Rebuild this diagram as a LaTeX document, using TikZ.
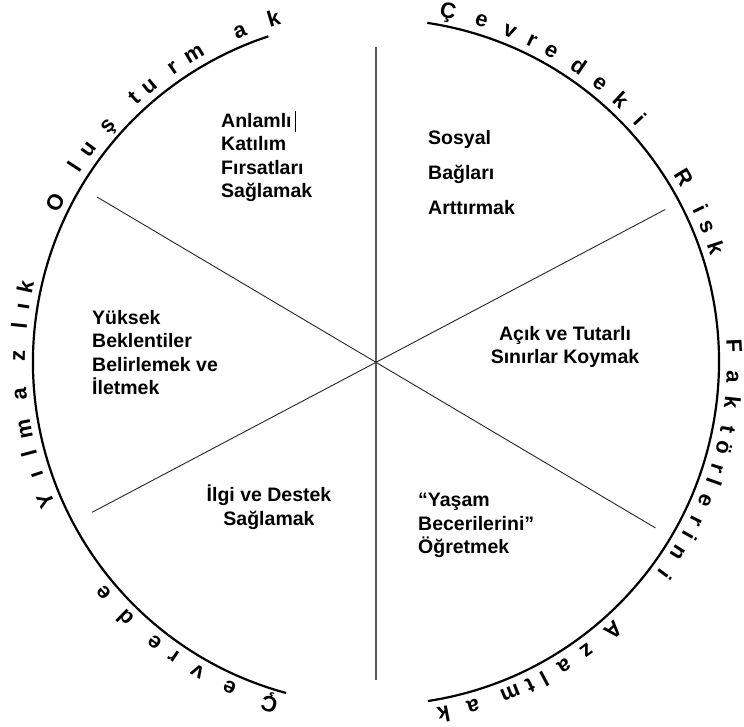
\documentclass[tikz,border=0pt]{standalone}
\usepackage{fontspec}
\setmainfont{Liberation Sans}
\usetikzlibrary{calc}
\begin{document}
\begin{tikzpicture}[x=1pt,y=1pt,
  arcletter/.style={font=\bfseries\fontsize{22}{22}\selectfont, inner sep=0pt, anchor=base},
  lbl/.style={font=\bfseries\fontsize{19.5}{23.5}\selectfont, inner sep=0pt},
  lblwide/.style={font=\bfseries\fontsize{19.5}{35}\selectfont, inner sep=0pt},
  divline/.style={line width=0.9pt, draw=black!85},
  vline/.style={line width=1.1pt, draw=black!65},
  arcline/.style={line width=2.2pt}]
\useasboundingbox (0,0) rectangle (744,726);
\coordinate (C) at (376,364);

% arcs
\draw[arcline] ($(C)+(254.8:343)$) coordinate (L0) arc[start angle=254.8, end angle=108.3, radius=343] coordinate (L1);
\draw[arcline] ($(C)+(81.4:343)$) coordinate (R0) arc[start angle=81.4, end angle=-81.3, radius=343] coordinate (R1);

% dividing lines
\coordinate (vt) at ($(C)+(90:315)$);
\coordinate (vb) at ($(C)+(270:318)$);
\coordinate (aul) at ($(C)+(149.4:324)$);
\coordinate (alr) at ($(C)+(-30.7:325)$);
\coordinate (bur) at ($(C)+(27.8:327)$);
\coordinate (bll) at ($(C)+(207.9:321)$);
\draw[vline] (vt) -- (vb);
\draw[divline] (aul) -- (alr);
\draw[divline] (bur) -- (bll);

% arc texts (clockwise, tops outward)
\foreach \a/\ch [count=\i] in {252.7/Ç, 245.8/e, 240.0/v, 235.5/r, 231.7/e, 225.6/d, 220.3/e,
  202.8/Y, 198.3/ı, 194.8/l, 190.8/m, 185.2/a, 179.0/z, 174.2/l, 171.1/ı, 167.9/k,
  153.5/O, 147.0/l, 143.5/u, 138.7/ş, 132.5/t, 129.4/u, 124.6/r, 120.6/m, 112.4/a, 106.6/k}
  \node[arcletter, rotate=\a-90] (lt\i) at ($(C)+(\a:351)$) {\ch};

\foreach \a/\ch [count=\i] in {78.4/Ç, 72.8/e, 68.0/v, 64.1/r, 60.6/e, 55.6/d, 51.2/e, 46.9/k, 42.6/i,
  30.9/R, 25.3/i, 22.2/s, 18.6/k,
  2.5/F, -2.4/a, -6.4/k, -10.9/t, -13.8/ö, -17.3/r, -19.6/l, -22.8/e, -26.4/r, -29.0/i, -32.3/n, -36.3/i,
  -48.4/A, -53.9/z, -58.2/a, -62.0/l, -64.5/t, -67.9/m, -74.2/a, -79.1/k}
  \node[arcletter, rotate=\a-90] (rt\i) at ($(C)+(\a:351)$) {\ch};

% sector texts
\node[lbl, align=left, anchor=north west] (anl) at (221,613) {Anlamlı\\Katılım\\Fırsatları\\Sağlamak};
\coordinate (cur0) at (295,615);
\coordinate (cur1) at (295,594);
\draw[line width=0.8pt] (cur0) -- (cur1);
\node[lblwide, align=left, anchor=north west] (sos) at (428,596) {Sosyal\\Bağları\\Arttırmak};
\node[lbl, align=left, anchor=north west] (yuk) at (92,416) {Yüksek\\Beklentiler\\Belirlemek ve\\İletmek};
\node[lbl, align=center, anchor=north] (acik) at (565,400) {Açık ve Tutarlı\\Sınırlar Koymak};
\node[lbl, align=center, anchor=north] (ilgi) at (269,241) {İlgi ve Destek\\Sağlamak};
\node[lbl, align=left, anchor=north west] (yas) at (418,233) {“Yaşam\\Becerilerini”\\Öğretmek};
\end{tikzpicture}
\end{document}
